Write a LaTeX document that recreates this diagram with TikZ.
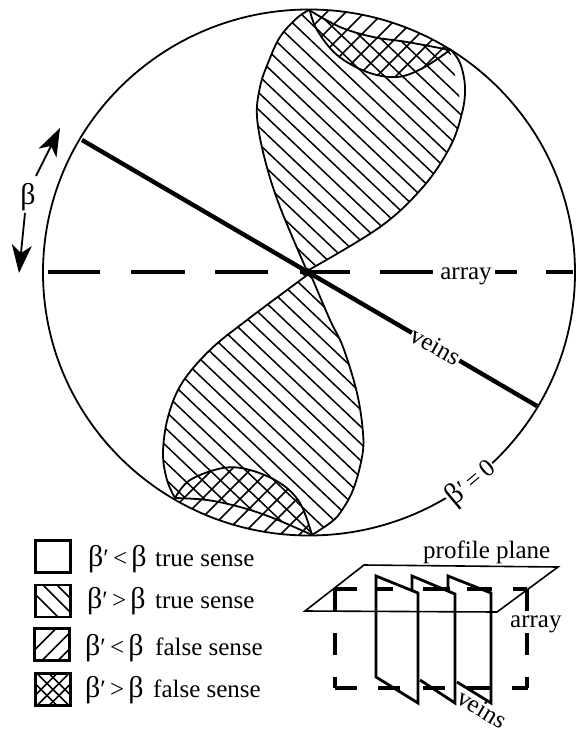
\documentclass[tikz,border=0pt]{standalone}
\usepackage{fontspec}
\setmainfont{Liberation Serif}
\usetikzlibrary{arrows.meta}
\newcommand\bet{{\fontsize{30}{30}\selectfont β}}
\def\topLens{plot[smooth,tension=.6] coordinates {(309,10) (297,18) (280,37) (268,63) (260,87) (257,117) (265,160) (280,207) (307,271)}
  -- plot[smooth,tension=.6] coordinates {(307,271) (380,227) (423,187) (450,147) (462,113) (465,87) (460,63) (450,49)}}
\def\botLens{plot[smooth,tension=.6] coordinates {(310,273) (247,320) (210,350) (182,383) (168,417) (163,453) (167,480) (175,498)}
  -- plot[smooth,tension=.6] coordinates {(175,498) (207,500) (240,507) (273,518) (312,535)}
  -- plot[smooth,tension=.6] coordinates {(312,535) (330,523) (340,513) (353,490) (362,457) (363,433) (357,393) (343,347) (330,320) (310,273)}}
\tikzset{
  textfont/.style={font=\fontsize{25}{28}\selectfont,inner sep=0pt},
  rim/.style={line width=1.8pt},
  hatchline/.style={line width=1.5pt},
  dashrule/.style={line width=3.2pt},
  sheet/.style={line width=2.8pt,line join=miter},
  legbox/.style={draw,line width=2.4pt,minimum width=35pt,minimum height=32pt,inner sep=0pt},
  hatchdown/.style={path picture={
    \foreach \d in {#1}
      \draw[hatchline,shift={(path picture bounding box.center)}] (\d-25,-25) -- (\d+25,25);}},
  hatchup/.style={path picture={
    \foreach \d in {#1}
      \draw[hatchline,shift={(path picture bounding box.center)}] (\d-25,25) -- (\d+25,-25);}},
  hatchcross/.style={path picture={
    \foreach \d in {#1} {
      \draw[hatchline,shift={(path picture bounding box.center)}] (\d-25,-25) -- (\d+25,25);
      \draw[hatchline,shift={(path picture bounding box.center)}] (\d-25,25) -- (\d+25,-25);
    }}},
}
\begin{document}
\begin{tikzpicture}[x=1pt,y=-1pt]
  \useasboundingbox (0,0) rectangle (578,730);
  \begin{scope}
    \clip (309,272.5) ellipse[x radius=266,y radius=263];
    \begin{scope}
      \clip \topLens -- (450,20) -- (309,0) -- cycle;
      \clip plot[smooth,tension=.6] coordinates {(309,10) (340,27) (373,37) (407,42) (450,50)}
        -- (500,300) -- (200,300) -- (200,10) -- cycle;
      \foreach \c in {-544,-527,...,300}
        \draw[hatchline] (0,\c) -- (578,\c+549);
    \end{scope}
    \begin{scope}
      \clip \botLens;
      \foreach \c in {-528,-511,...,500}
        \draw[hatchline] (0,\c) -- (578,\c+549);
    \end{scope}
    \begin{scope}
      \clip plot[smooth,tension=.6] coordinates {(310,11) (317,30) (337,55) (367,72) (397,77) (423,68) (450,50)}
        -- (470,0) -- (300,0) -- cycle;
      \foreach \c in {301,320,...,600}
        \draw[hatchline] (0,\c) -- (578,\c-578);
    \end{scope}
    \begin{scope}
      \clip plot[smooth,tension=.6] coordinates {(175,498) (190,480) (223,468) (250,470) (280,483) (300,503) (312,535)}
        -- (330,560) -- (160,560) -- cycle;
      \foreach \c in {606,625,...,900}
        \draw[hatchline] (0,\c) -- (578,\c-578);
    \end{scope}
  \end{scope}
  \draw[rim] (309,272.5) ellipse[x radius=266,y radius=263];
  \draw[rim] \topLens;
  \draw[rim] \botLens;
  \draw[rim] plot[smooth,tension=.6] coordinates {(309,10) (340,27) (373,37) (407,42) (450,50)};
  \draw[rim] plot[smooth,tension=.6] coordinates {(310,11) (317,30) (337,55) (367,72) (397,77) (423,68) (450,50)};
  \draw[rim] plot[smooth,tension=.6] coordinates {(175,498) (190,480) (223,468) (250,470) (280,483) (300,503) (312,535)};
  \coordinate (veinsA) at (82,140);
  \coordinate (veinsB) at (537,406);
  \draw[line width=4.4pt] (veinsA) -- (veinsB);
  \foreach \a/\b in {48/100,131/185,215/268,300/350,380/433,495/517,546/573}
    \draw[dashrule] (\a,272) -- (\b,272);
  \fill (306,272) circle[radius=4.5pt];
  \node[textfont] (arrayLabel) at (466,276) {array};
  \node[textfont,fill=white,inner sep=1pt,rotate=-29] (veinsLabel) at (436,346) {veins};
  \node[textfont,fill=white,inner sep=1pt,rotate=40] (zeroLabel) at (471,483) {\bet′\,=\,0};
  \node[textfont] (betaLabel) at (28,197) {\bet};
  \coordinate (arrowUp) at (60,128);
  \coordinate (arrowDown) at (19,273);
  \draw[-{Stealth[length=28pt,width=20pt,inset=8pt]},line width=1.8pt] (36,176) -- (arrowUp);
  \draw[-{Stealth[length=28pt,width=20pt,inset=8pt]},line width=1.8pt] (25,213) -- (arrowDown);
  \node[legbox] (legA) at (53,556.5) {};
  \node[legbox,hatchdown={-11,6,20}] (legB) at (53,601) {};
  \node[legbox,hatchup={-12,6,22}] (legC) at (52,644.5) {};
  \node[legbox,hatchcross={-12,0,12}] (legD) at (53,689.5) {};
  \node[textfont,anchor=base west] (condA) at (88,566) {\bet′\,<\,\bet};
  \node[textfont,anchor=base west] (condB) at (87,608) {\bet′\,>\,\bet};
  \node[textfont,anchor=base west] (condC) at (85,655) {\bet′\,<\,\bet};
  \node[textfont,anchor=base west] (condD) at (85,697) {\bet′\,>\,\bet};
  \node[textfont,anchor=base west] (senseA) at (155,566) {true sense};
  \node[textfont,anchor=base west] (senseB) at (155,608) {true sense};
  \node[textfont,anchor=base west] (senseC) at (155,655) {false sense};
  \node[textfont,anchor=base west] (senseD) at (153,697) {false sense};
  \foreach \a/\b in {335/357,375/393,423/450,467/492,513/527}
    \draw[dashrule] (\a,589) -- (\b,589);
  \foreach \a/\b in {335/357,378/400,423/445,467/490,512/528}
    \draw[dashrule] (\a,688) -- (\b,688);
  \foreach \a/\b in {589/611,633/655,677/688} {
    \draw[dashrule] (335,\a) -- (335,\b);
    \draw[dashrule] (527,\a) -- (527,\b);
  }
  \draw[sheet] (376,576) -- (418,593) -- (418,703) -- (376,677) -- cycle;
  \draw[sheet] (412,590) -- (412,576) -- (455,594) -- (455,703) -- (420,680);
  \draw[sheet] (448,588) -- (448,576) -- (491,593) -- (491,703) -- (457,682);
  \draw[line width=1.6pt,line join=miter] (305,611) -- (364,565) -- (558,567) -- (497,612) -- cycle;
  \node[textfont,anchor=base west] (planeLabel) at (423,558) {profile plane};
  \node[textfont,anchor=base west] (arrayKey) at (510,627) {array};
  \node[textfont,rotate=-31] (veinsKey) at (482,709) {veins};
\end{tikzpicture}
\end{document}
